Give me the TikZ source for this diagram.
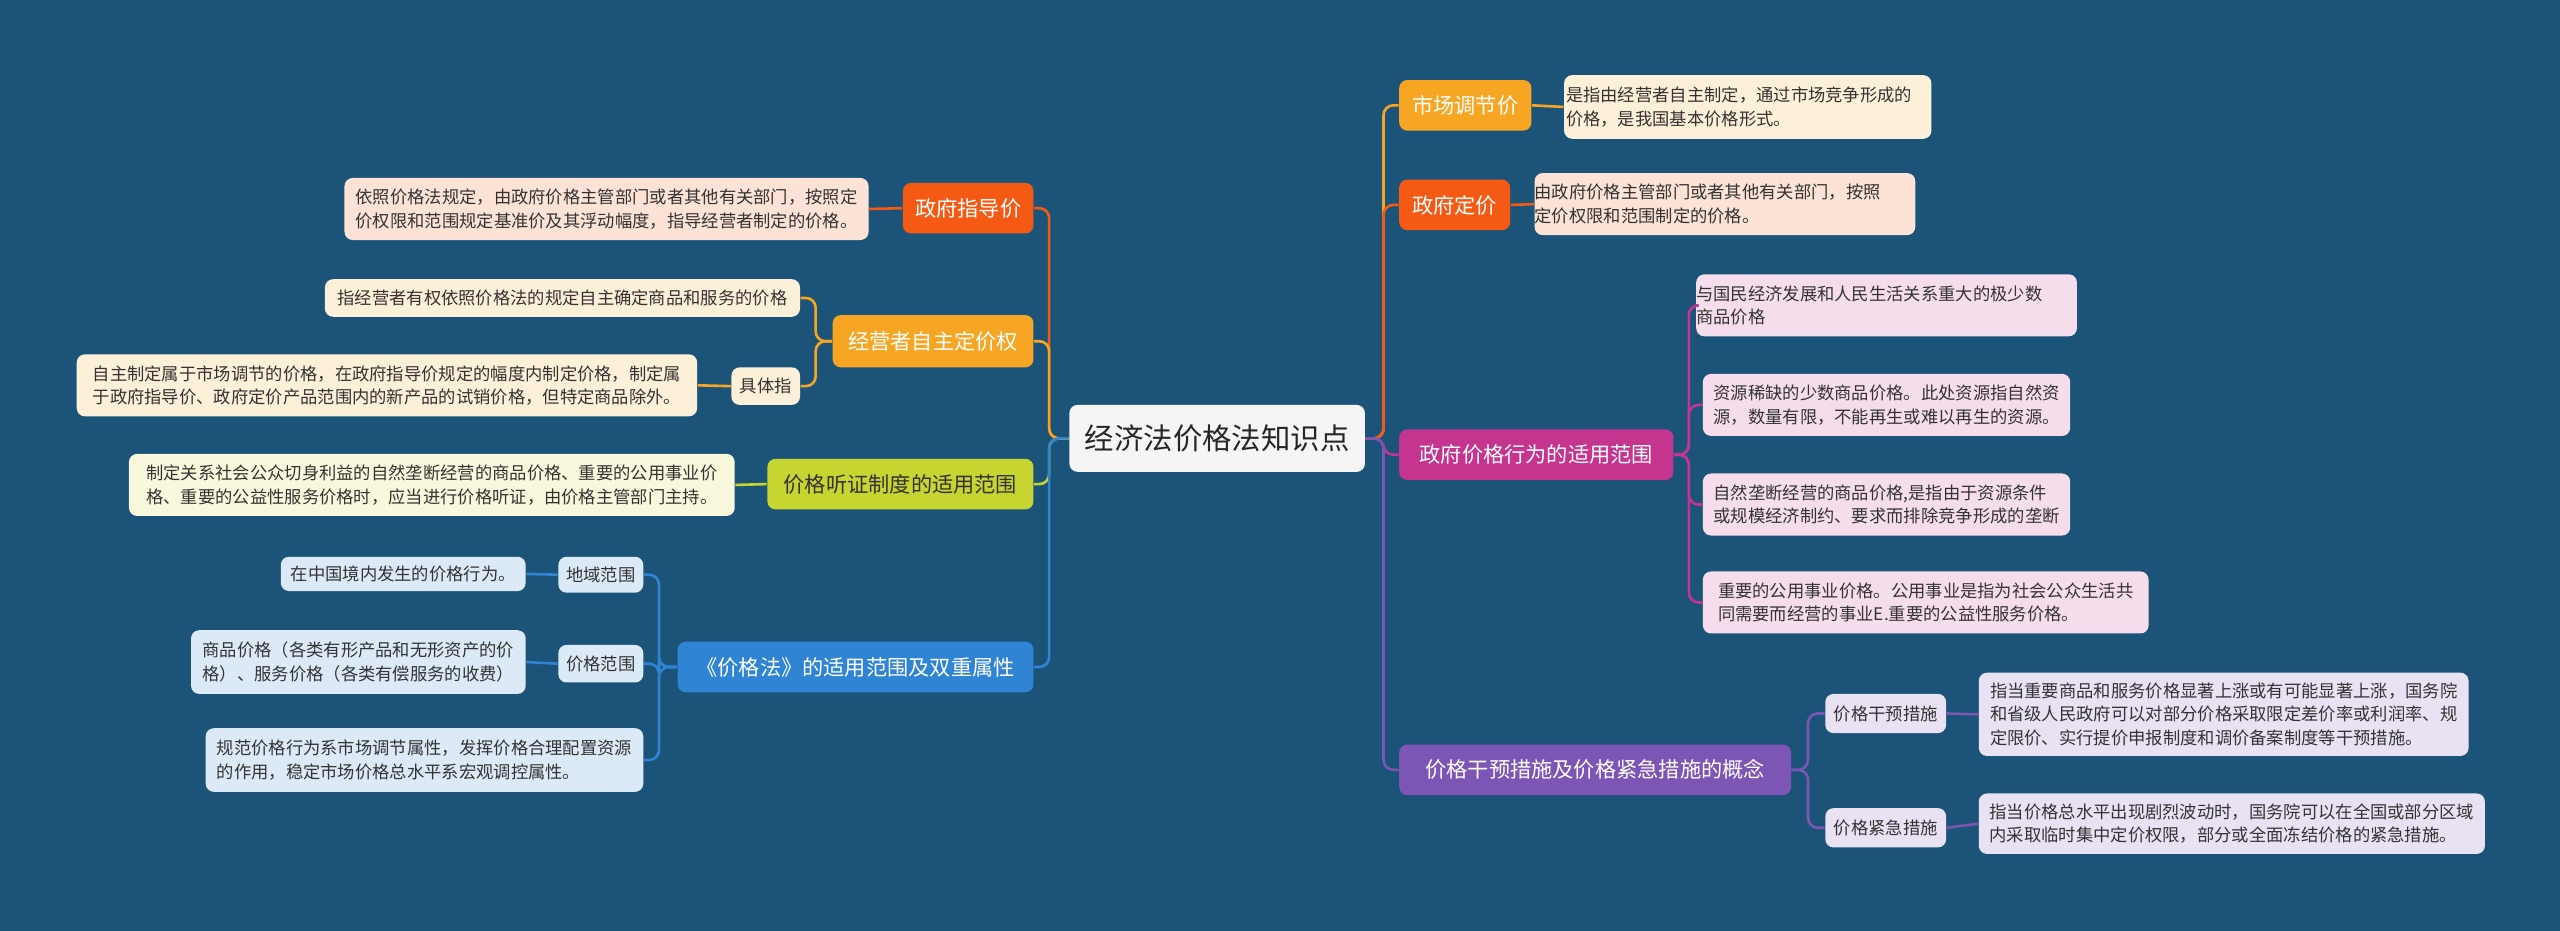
\documentclass[tikz,border=0pt]{standalone}
\usepackage{fontspec}
\setmainfont{Noto Sans CJK SC}
\begin{document}
\begin{tikzpicture}[x=0.5pt,y=-0.5pt,
  base/.style={rounded corners=2.5pt,inner sep=0pt,align=left},
  leaf/.style={base,text=black!80,font=\fontsize{5.3}{7.2}\selectfont},
  sub/.style={base,text=black!80,font=\fontsize{5.3}{7}\selectfont,align=center},
  topic/.style={base,text=white,font=\fontsize{6.5}{8}\selectfont,align=center},
  ln/.style={line width=0.8pt,rounded corners=3pt}]
\definecolor{bg}{HTML}{1B5478}
\definecolor{kr}{HTML}{F45A14}\definecolor{ko}{HTML}{F6A623}
\definecolor{ky}{HTML}{C6D52F}\definecolor{kb}{HTML}{2F84D4}
\definecolor{km}{HTML}{C5348E}\definecolor{kp}{HTML}{7D56B5}
\definecolor{fr}{HTML}{FDE3D6}\definecolor{fo}{HTML}{FDF0D8}
\definecolor{fy}{HTML}{FAF8DC}\definecolor{fb}{HTML}{DCEAF7}
\definecolor{fm}{HTML}{F6DDEB}\definecolor{fp}{HTML}{E9E2F3}
\fill[bg] (0,0) rectangle (1568,570);
\node[base,fill=white!96!black,text=black!85,font=\fontsize{9}{11}\selectfont,minimum width=90.5pt,minimum height=20.5pt,align=center] (c) at (745.5,268.5) {经济法价格法知识点};
% right
\node[topic,fill=ko,minimum width=40.5pt,minimum height=15.5pt] (r1) at (897.5,64.5) {市场调节价};
\node[leaf,fill=fo,minimum width=112.5pt,minimum height=19.5pt] (r1a) at (1070.5,65.5) {是指由经营者自主制定，通过市场竞争形成的\\价格，是我国基本价格形式。\hphantom{，通过市场竞争形}};
\node[topic,fill=kr,minimum width=34pt,minimum height=15.5pt] (r2) at (891,125.5) {政府定价};
\node[leaf,fill=fr,minimum width=110.5pt,minimum height=19pt] (r2a) at (1056.5,125) {由政府价格主管部门或者其他有关部门，按照\\定价权限和范围制定的价格。\hphantom{或者其他有关部门，}};
\node[topic,fill=km,minimum width=84pt,minimum height=15.5pt] (r3) at (941,278.5) {政府价格行为的适用范围};
\node[leaf,fill=fm,minimum width=112.5pt,minimum height=19pt] (r3a) at (1155.5,187) {与国民经济发展和人民生活关系重大的极少数\\商品价格\hphantom{生活关系重大的极少数商品价格生活关系}};
\node[leaf,fill=fm,minimum width=112.5pt,minimum height=19pt] (r3b) at (1155.5,248) {资源稀缺的少数商品价格。此处资源指自然资\\源，数量有限，不能再生或难以再生的资源。};
\node[leaf,fill=fm,minimum width=112.5pt,minimum height=19pt] (r3c) at (1155.5,309) {自然垄断经营的商品价格,是指由于资源条件\\或规模经济制约、要求而排除竞争形成的垄断};
\node[leaf,fill=fm,minimum width=136.5pt,minimum height=19pt] (r3d) at (1179.5,369) {重要的公用事业价格。公用事业是指为社会公众生活共\\同需要而经营的事业E.重要的公益性服务价格。\hphantom{共同需}};
\node[topic,fill=kp,minimum width=120pt,minimum height=15.5pt] (r4) at (977,471.5) {价格干预措施及价格紧急措施的概念};
\node[sub,fill=fp,minimum width=37pt,minimum height=12pt] (r4s1) at (1155,437) {价格干预措施};
\node[sub,fill=fp,minimum width=37pt,minimum height=12pt] (r4s2) at (1155,507) {价格紧急措施};
\node[leaf,fill=fp,minimum width=150pt,minimum height=25.5pt] (r4a) at (1362,437.5) {指当重要商品和服务价格显著上涨或有可能显著上涨，国务院\\和省级人民政府可以对部分价格采取限定差价率或利润率、规\\定限价、实行提价申报制度和调价备案制度等干预措施。\hphantom{国务}};
\node[leaf,fill=fp,minimum width=155pt,minimum height=18.5pt] (r4b) at (1367,504.5) {指当价格总水平出现剧烈波动时，国务院可以在全国或部分区域\\内采取临时集中定价权限，部分或全面冻结价格的紧急措施。\hphantom{区}};
% left
\node[topic,fill=kr,minimum width=40pt,minimum height=15.5pt] (l1) at (593,127.5) {政府指导价};
\node[leaf,fill=fr,minimum width=160.5pt,minimum height=19pt] (l1a) at (371.5,128) {依照价格法规定，由政府价格主管部门或者其他有关部门，按照定\\价权限和范围规定基准价及其浮动幅度，指导经营者制定的价格。};
\node[topic,fill=ko,minimum width=61.5pt,minimum height=16pt] (l2) at (571.5,209) {经营者自主定价权};
\node[leaf,fill=fo,minimum width=145.5pt,minimum height=11.5pt] (l2a) at (344.5,182.5) {指经营者有权依照价格法的规定自主确定商品和服务的价格};
\node[sub,fill=fo,minimum width=21pt,minimum height=11.5pt] (l2s) at (469,236.5) {具体指};
\node[leaf,fill=fo,minimum width=190pt,minimum height=19pt] (l2b) at (237,236) {自主制定属于市场调节的价格，在政府指导价规定的幅度内制定价格，制定属\\于政府指导价、政府定价产品范围内的新产品的试销价格，但特定商品除外。};
\node[topic,fill=ky,text=black!80,minimum width=81.5pt,minimum height=15.5pt] (l3) at (551.5,296.5) {价格听证制度的适用范围};
\node[leaf,fill=fy,minimum width=185.5pt,minimum height=19pt] (l3a) at (264.5,297) {制定关系社会公众切身利益的自然垄断经营的商品价格、重要的公用事业价\\格、重要的公益性服务价格时，应当进行价格听证，由价格主管部门主持。};
\node[topic,fill=kb,minimum width=109pt,minimum height=15.5pt] (l4) at (524,408.5) {《价格法》的适用范围及双重属性};
\node[sub,fill=fb,minimum width=26pt,minimum height=11pt] (l4s1) at (368,352) {地域范围};
\node[sub,fill=fb,minimum width=26pt,minimum height=11.5pt] (l4s2) at (368,406.5) {价格范围};
\node[leaf,fill=fb,minimum width=75pt,minimum height=10.5pt] (l4a) at (247,351.5) {在中国境内发生的价格行为。};
\node[leaf,fill=fb,minimum width=102.5pt,minimum height=19.5pt] (l4b) at (219.5,405.5) {商品价格（各类有形产品和无形资产的价\\格）、服务价格（各类有偿服务的收费）};
\node[leaf,fill=fb,minimum width=134pt,minimum height=19.5pt] (l4c) at (260,465.5) {规范价格行为系市场调节属性，发挥价格合理配置资源\\的作用，稳定市场价格总水平系宏观调控属性。\hphantom{配置资}};
% connectors right
\foreach \n/\col in {r1/ko,r2/kr,r3/km,r4/kp}
  \draw[ln,draw=\col] (c.east) -- ++(11,0) |- (\n.west);
\foreach \n/\col in {r1/ko,r2/kr}
  \draw[ln,draw=\col] (\n.east) -- (\n a.west);
\foreach \m in {r3a,r3b,r3c,r3d}
  \draw[ln,draw=km] (r3.east) -- ++(9,0) |- (\m.west);
\foreach \m in {r4s1,r4s2}
  \draw[ln,draw=kp] (r4.east) -- ++(10,0) |- (\m.west);
\draw[ln,draw=kp] (r4s1.east) -- (r4a.west);
\draw[ln,draw=kp] (r4s2.east) -- (r4b.west);
% connectors left
\foreach \n/\col in {l1/kr,l2/ko,l3/ky,l4/kb}
  \draw[ln,draw=\col] (c.west) -- ++(-12,0) |- (\n.east);
\draw[ln,draw=kr] (l1.west) -- (l1a.east);
\draw[ln,draw=ky] (l3.west) -- (l3a.east);
\foreach \m in {l2a,l2s}
  \draw[ln,draw=ko] (l2.west) -- ++(-10,0) |- (\m.east);
\draw[ln,draw=ko] (l2s.west) -- (l2b.east);
\foreach \m in {l4s1,l4s2,l4c}
  \draw[ln,draw=kb] (l4.west) -- ++(-11,0) |- (\m.east);
\draw[ln,draw=kb] (l4s1.west) -- (l4a.east);
\draw[ln,draw=kb] (l4s2.west) -- (l4b.east);
\end{tikzpicture}
\end{document}
